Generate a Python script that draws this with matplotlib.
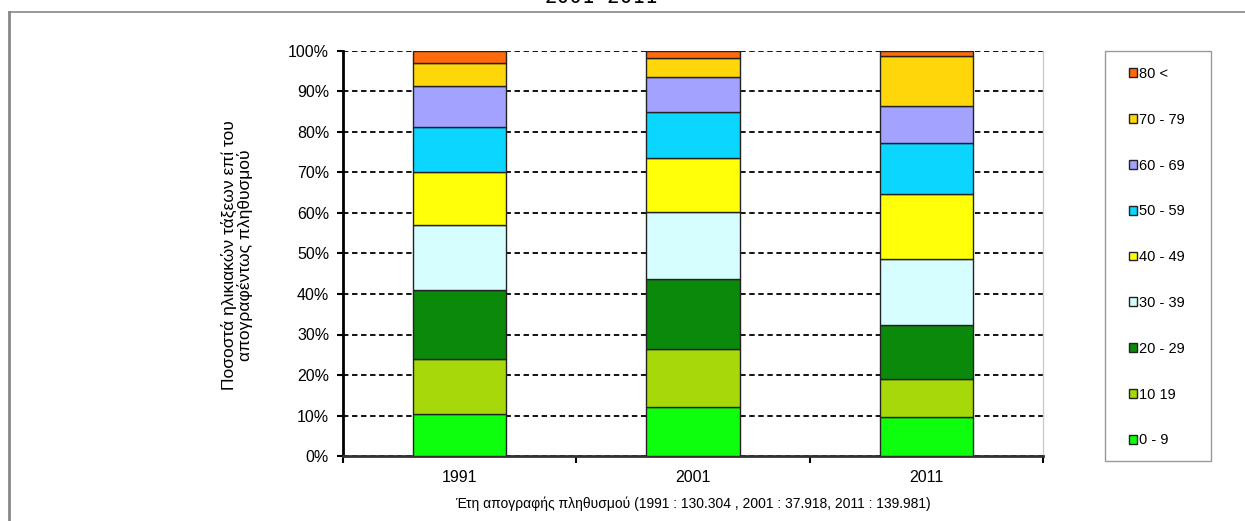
import numpy as np
import matplotlib
matplotlib.use("Agg")
import matplotlib.pyplot as plt
from matplotlib.lines import Line2D
from matplotlib.patches import Rectangle
from matplotlib.ticker import PercentFormatter

plt.rcParams['font.family'] = ['Liberation Sans', 'DejaVu Sans']

# data (percent of population per age group)
years = ["1991", "2001", "2011"]
groups = ["0 - 9", "10 19", "20 - 29", "30 - 39", "40 - 49",
          "50 - 59", "60 - 69", "70 - 79", "80 <"]
share_1991 = [10.4, 13.6, 16.9, 16.1, 13.2, 11.1, 10.1, 5.7, 2.9]
share_2001 = [12.2, 14.2, 17.4, 16.4, 13.3, 11.4, 8.6, 4.7, 1.8]
share_2011 = [9.6, 9.4, 13.3, 16.3, 16.1, 12.7, 9.1, 12.3, 1.2]
colors = ["#0DFF0D", "#A6D80A", "#0B890B", "#D6FDFF", "#FFFF0A",
          "#0AD6FF", "#A3A3FF", "#FFD60A", "#FF6A0A"]

title = "2001-2011"
ylabel = "Ποσοστά ηλικιακών τάξεων επί του\nαπογραφέντως πληθυσμού"
xlabel = "Έτη απογραφής πληθυσμού (1991 : 130.304 , 2001 : 37.918, 2011 : 139.981)"

data = np.array([share_1991, share_2001, share_2011]).T  # groups x years

W, H = 1245, 521
fig = plt.figure(figsize=(W / 100, H / 100), dpi=100)
ax = fig.add_axes([343 / W, 1 - 456 / H, 700 / W, 405 / H])

x = np.arange(len(years))
bottom = np.zeros(len(years))
handles = []
for i, g in enumerate(groups):
    b = ax.bar(x, data[i], 0.4, bottom=bottom, color=colors[i],
               edgecolor="#222222", linewidth=1.0, label=g, zorder=3)
    handles.append(b)
    bottom += data[i]

ax.set_xlim(-0.5, 2.5)
ax.set_ylim(0, 100)
ax.set_yticks(np.arange(0, 101, 10))
ax.yaxis.set_major_formatter(PercentFormatter(decimals=0))
ax.tick_params(axis="y", length=4, width=1.5, pad=6, labelsize=11.5, direction="out")

ax.set_xticks(x)
ax.set_xticklabels(years)
ax.set_xticks([-0.5, 0.5, 1.5, 2.5], minor=True)
ax.tick_params(axis="x", which="major", length=0, pad=10, labelsize=11.5)
ax.tick_params(axis="x", which="minor", length=5, width=1.5, direction="out")

ax.set_axisbelow(True)
ax.yaxis.grid(True, linestyle=(0, (3, 2)), color="black", linewidth=1.3, zorder=0)

ax.spines["top"].set_visible(False)
ax.spines["right"].set_color("#cccccc")
ax.spines["right"].set_linewidth(1.0)
ax.spines["left"].set_linewidth(2.0)
ax.spines["bottom"].set_linewidth(2.0)
ax.spines["bottom"].set_color("#333333")

# axis labels
fig.text(237 / W, 1 - 255 / H, ylabel, rotation=90, ha="center", va="center",
         fontsize=12.5, linespacing=0.95)
fig.text(693 / W, 1 - 504 / H, xlabel, ha="center", va="center", fontsize=10)

# title, cut off at the top edge
fig.text(601 / W, 1 - 3 / H, title, ha="center", va="baseline",
         family="DejaVu Sans Mono", fontsize=15)

# outer chart border
fig.lines.append(Line2D([8.5 / W, 1.0], [1 - 12 / H, 1 - 12 / H],
                        transform=fig.transFigure, color="#888888", linewidth=1.2))
fig.lines.append(Line2D([8.5 / W, 8.5 / W], [0, 1 - 12 / H],
                        transform=fig.transFigure, color="#888888", linewidth=2.0))

# legend box
fig.patches.append(Rectangle((1105 / W, 1 - 461 / H), 106 / W, 410 / H,
                             transform=fig.transFigure, fill=False,
                             edgecolor="#999999", linewidth=1.0))
leg = fig.legend(handles[::-1], groups[::-1], loc="upper left",
                 bbox_to_anchor=(1129 / W, 1 - 67 / H), frameon=False,
                 fontsize=10.5, labelspacing=2.18, handlelength=0.55,
                 handleheight=0.55, handletextpad=0.15, borderpad=0,
                 borderaxespad=0)

fig.savefig("out.png", dpi=100)
